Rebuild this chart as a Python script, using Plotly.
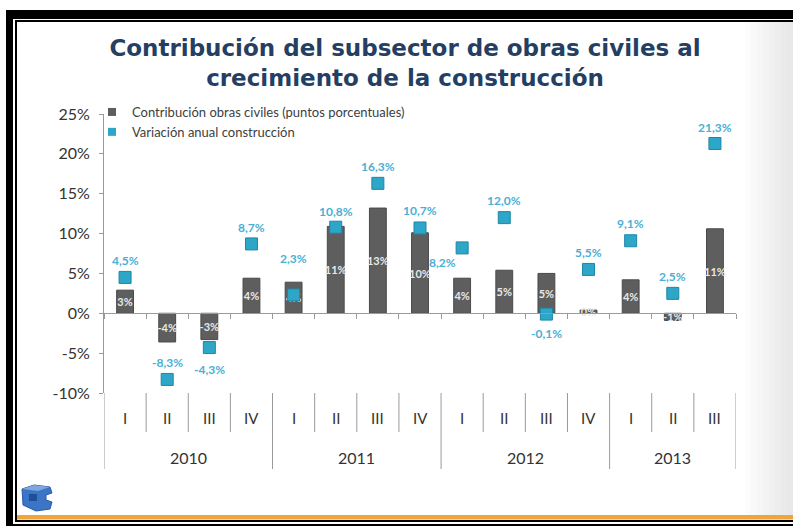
import plotly.graph_objects as go

# ---------------- data ----------------
years = ["2010", "2011", "2012", "2013"]
quarters = ["I", "II", "III", "IV", "I", "II", "III", "IV", "I", "II", "III", "IV", "I", "II", "III"]
quarter_year = ["2010"] * 4 + ["2011"] * 4 + ["2012"] * 4 + ["2013"] * 3
contrib_obras = [2.9, -3.6, -3.3, 4.4, 3.9, 10.9, 13.2, 10.1, 4.4, 5.4, 5.0, 0.4, 4.2, -0.9, 10.6]
var_construccion = [4.5, -8.3, -4.3, 8.7, 2.3, 10.8, 16.3, 10.7, 8.2, 12.0, -0.1, 5.5, 9.1, 2.5, 21.3]
series_names = ["Contribución obras civiles (puntos porcentuales)", "Variación anual construcción"]
y_ticks = [-10, -5, 0, 5, 10, 15, 20, 25]
y_tick_labels = ["-10%", "-5%", "0%", "5%", "10%", "15%", "20%", "25%"]

# ---------------- styles ----------------
W, H = 793, 526
ML, MR, MT, MB = 104, 57, 114, 133
PW, PH = W - ML - MR, H - MT - MB
BAR_COLOR = "#5E5E5E"
MARK_COLOR = "#2EA6C8"
LABEL_COLOR = "#4AAFD4"
TXT = "#333333"
AX = "#9A9A9A"
FONT = "Lato"
# label offsets (px) for the construction-variation labels: (dx, dy)
label_offsets = [(0, 17), (0, 17), (0, -22), (0, 16), (0, 36), (0, 16), (0, 17), (0, 17),
                 (-20, -15), (0, 17), (0, -19), (0, 17), (0, 17), (0, 17), (0, 16)]

x_keys = [f"{y} {q}" for y, q in zip(quarter_year, quarters)]


def px(xp):
    return (xp - ML) / PW


def py(yp):
    return (H - MB - yp) / PH


fig = go.Figure()

fig.add_trace(go.Bar(
    x=x_keys, y=contrib_obras, name=series_names[0], showlegend=False,
    width=0.4,
    marker=dict(color=BAR_COLOR, line=dict(color="#4A4A4A", width=1)),
    text=[f"{v:.0f}%" for v in contrib_obras],
    textposition="inside", insidetextanchor="middle", constraintext="none", textangle=0,
    textfont=dict(family=FONT, size=11, color="#E8E8E8", weight="bold"),
    hoverinfo="skip",
))

fig.add_trace(go.Scatter(
    x=x_keys, y=var_construccion, name=series_names[1], mode="markers", showlegend=False,
    marker=dict(symbol="square", size=12, color=MARK_COLOR, line=dict(color="#1E86A8", width=1)),
    hoverinfo="skip",
))

# legend-only entries (small square symbols)
fig.add_trace(go.Scatter(x=[None], y=[None], mode="markers", name=series_names[0],
                         marker=dict(symbol="square", size=8, color=BAR_COLOR)))
fig.add_trace(go.Scatter(x=[None], y=[None], mode="markers", name=series_names[1],
                         marker=dict(symbol="square", size=8, color=MARK_COLOR)))

annotations = []
for i, v in enumerate(var_construccion):
    dx, dy = label_offsets[i]
    annotations.append(dict(
        x=i, y=v, xref="x", yref="y", showarrow=False,
        text=f"{v:.1f}%".replace(".", ","), xshift=dx, yshift=dy,
        font=dict(family=FONT, size=12, color=LABEL_COLOR, weight="bold"),
    ))

# category labels
for i, q in enumerate(quarters):
    annotations.append(dict(x=i, y=0, xref="x", yref="paper", yshift=-36, showarrow=False,
                            text=q, font=dict(family=FONT, size=15, color=TXT)))
for y in years:
    idx = [i for i, qy in enumerate(quarter_year) if qy == y]
    annotations.append(dict(x=(idx[0] + idx[-1]) / 2, y=0, xref="x", yref="paper", yshift=-76,
                            showarrow=False, text=y, font=dict(family=FONT, size=16, color=TXT)))

shapes = []
# frame
shapes.append(dict(type="rect", xref="paper", yref="paper", x0=px(6), x1=px(820), y0=py(10), y1=py(545),
                   fillcolor="black", line=dict(width=0), layer="below"))
shapes.append(dict(type="rect", xref="paper", yref="paper", x0=px(13), x1=px(820), y0=py(19), y1=py(524),
                   fillcolor="white", line=dict(width=0), layer="below"))
shapes.append(dict(type="rect", xref="paper", yref="paper", x0=px(15), x1=px(820), y0=py(20), y1=py(522),
                   fillcolor="black", line=dict(width=0), layer="below"))
shapes.append(dict(type="rect", xref="paper", yref="paper", x0=px(17), x1=px(820), y0=py(22), y1=py(520),
                   fillcolor="white", line=dict(width=0), layer="below"))
# soft grey shading toward the right edge
for k in range(8):
    x0 = 745 + k * 6
    shapes.append(dict(type="rect", xref="paper", yref="paper", x0=px(x0), x1=px(820), y0=py(22), y1=py(515),
                       fillcolor="rgba(200,200,200,0.05)", line=dict(width=0), layer="below"))
# orange bottom line
shapes.append(dict(type="rect", xref="paper", yref="paper", x0=px(17), x1=px(820), y0=py(515), y1=py(519.5),
                   fillcolor="#EFA53A", line=dict(width=0), layer="below"))
# logo (blocky cube)
shapes.append(dict(type="path", xref="paper", yref="paper",
                   path=f"M {px(22)},{py(489)} L {px(34)},{py(485)} L {px(50)},{py(487)} L {px(52)},{py(493)} "
                        f"L {px(46)},{py(495)} L {px(46)},{py(500)} L {px(52)},{py(502)} L {px(50)},{py(509)} "
                        f"L {px(36)},{py(511)} L {px(23)},{py(505)} Z",
                   fillcolor="#3C74C6", line=dict(color="#2A5BA8", width=1), layer="below"))
shapes.append(dict(type="path", xref="paper", yref="paper",
                   path=f"M {px(22)},{py(489)} L {px(34)},{py(485)} L {px(50)},{py(487)} L {px(38)},{py(491)} Z",
                   fillcolor="#7FA6DF", line=dict(width=0), layer="below"))
shapes.append(dict(type="rect", xref="paper", yref="paper", x0=px(29), x1=px(37), y0=py(494), y1=py(501),
                   fillcolor="#1F4E9A", line=dict(width=0), layer="below"))

# category separators below the plot
boundaries = [i + 0.5 for i in range(len(quarters) - 1)]
year_bounds = [-0.5, 14.5] + [i + 0.5 for i in range(len(quarters) - 1) if quarter_year[i] != quarter_year[i + 1]]
for b in boundaries:
    if b in year_bounds:
        continue
    shapes.append(dict(type="line", xref="x", yref="paper", x0=b, x1=b, y0=0, y1=py(432),
                       line=dict(color=AX, width=1)))
for b in year_bounds:
    shapes.append(dict(type="line", xref="x", yref="paper", x0=b, x1=b, y0=0, y1=py(469),
                       line=dict(color=AX, width=1)))

fig.update_layout(
    width=W, height=H, autosize=False,
    margin=dict(l=ML, r=MR, t=MT, b=MB),
    paper_bgcolor="white", plot_bgcolor="rgba(0,0,0,0)",
    font=dict(family=FONT, color=TXT),
    title=dict(text="Contribución del subsector de obras civiles al<br>crecimiento de la construcción",
               x=405 / W, xref="container", xanchor="center", y=1 - 56 / H, yref="container", yanchor="middle",
               font=dict(family="DejaVu Sans", size=23, color="#243F63", weight="bold")),
    showlegend=True,
    legend=dict(x=px(92), y=py(97), xanchor="left", yanchor="top", bgcolor="rgba(0,0,0,0)",
                font=dict(family=FONT, size=13, color="#404040"), itemwidth=30, tracegroupgap=0),
    bargap=0.6,
    xaxis=dict(type="category", categoryorder="array", categoryarray=x_keys, range=[-0.5, 14.5],
               anchor="free", position=10 / 35, showline=True, linecolor=AX, linewidth=1,
               ticks="outside", tickson="boundaries", ticklen=5, tickcolor=AX,
               showticklabels=False, showgrid=False, zeroline=False, fixedrange=True),
    yaxis=dict(range=[-10, 25], tickmode="array", tickvals=y_ticks, ticktext=y_tick_labels,
               ticks="outside", ticklen=4,
               tickcolor=AX, showline=True, linecolor=AX, linewidth=1, showgrid=False, zeroline=False,
               tickfont=dict(family=FONT, size=16, color=TXT), ticklabelstandoff=6),
    annotations=annotations,
    shapes=shapes,
)

fig.write_html("out.html", config={"displayModeBar": False},
               post_script="document.body.style.margin='0px';document.body.style.overflow='hidden';")
